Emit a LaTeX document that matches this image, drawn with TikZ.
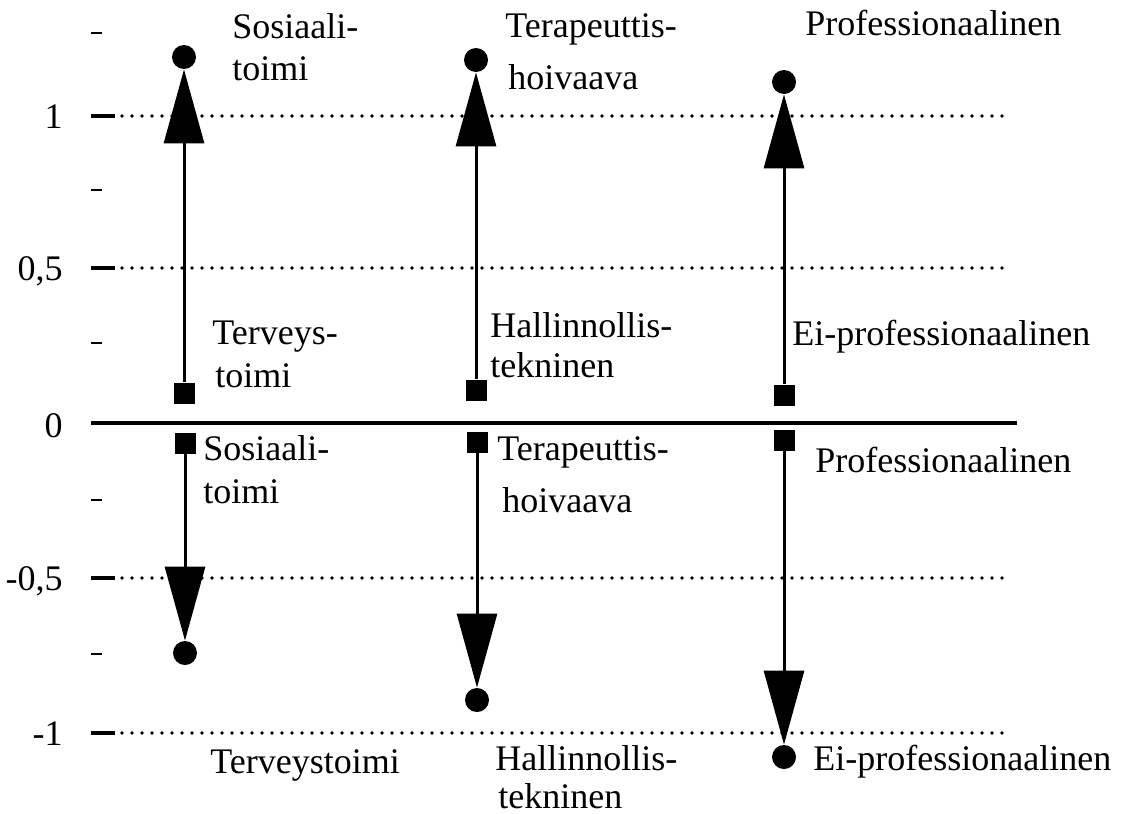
\documentclass[tikz,border=0pt]{standalone}
\usepackage{fontspec}
\setmainfont{Liberation Serif}
\usetikzlibrary{arrows.meta}
\begin{document}
\begin{tikzpicture}[x=0.5pt,y=-0.5pt,
  lbl/.style={anchor=base west, inner sep=0pt, font=\fontsize{18}{21}\selectfont},
  axlbl/.style={anchor=base east, inner sep=0pt, font=\fontsize{18}{21}\selectfont},
  sq/.style={rectangle, fill=black, minimum size=10.5pt, inner sep=0pt},
  dotnode/.style={circle, fill=black, minimum size=12pt, inner sep=0pt},
  conn/.style={line width=1.5pt, -{Triangle[width=20pt,length=37pt]}},
  gridline/.style={line width=1.9pt, line cap=round, dash pattern=on 0pt off 5pt},
  majortick/.style={line width=1.6pt},
  minortick/.style={line width=1.4pt},
  zeroline/.style={line width=1.6pt},
]
\useasboundingbox (0,0) rectangle (1125,814);

% axis labels
\node[axlbl] (y1)  at (63,128) {1};
\node[axlbl] (y05) at (63,280) {0,5};
\node[axlbl] (y0)  at (63,437) {0};
\node[axlbl] (ym05) at (63,590) {-0,5};
\node[axlbl] (ym1) at (63,745) {-1};

% major ticks and dotted grid lines
\foreach \yy in {116,268,578,733} {
  \draw[majortick] (91,\yy) -- (115,\yy);
  \draw[gridline] (122,\yy) -- (1010,\yy);
}
% minor ticks
\foreach \yy in {33,190,343,500,654} {
  \draw[minortick] (91,\yy) -- (102,\yy);
}
% zero line
\draw[zeroline] (91,423) -- (1017,423);

% upper arrows
\node[sq] (s1u) at (184,393) {};
\node[dotnode] (c1u) at (184,57) {};
\node[sq] (s2u) at (476,390) {};
\node[dotnode] (c2u) at (476,60) {};
\node[sq] (s3u) at (784,395) {};
\node[dotnode] (c3u) at (784,82) {};
\draw[conn] (s1u) -- (c1u);
\draw[conn] (s2u) -- (c2u);
\draw[conn] (s3u) -- (c3u);

% lower arrows
\node[sq] (s1d) at (185,443) {};
\node[dotnode] (c1d) at (185,653) {};
\node[sq] (s2d) at (477,442) {};
\node[dotnode] (c2d) at (477,700) {};
\node[sq] (s3d) at (784,440) {};
\node[dotnode] (c3d) at (784,757) {};
\draw[conn] (s1d) -- (c1d);
\draw[conn] (s2d) -- (c2d);
\draw[conn] (s3d) -- (c3d);

% labels, upper half
\node[lbl] (t1a) at (232,38) {Sosiaali-};
\node[lbl] (t1b) at (232,80) {toimi};
\node[lbl] (t2a) at (505,37) {Terapeuttis-};
\node[lbl] (t2b) at (508,89) {hoivaava};
\node[lbl] (t3a) at (805,35) {Professionaalinen};
\node[lbl] (b1a) at (212,344) {Terveys-};
\node[lbl] (b1b) at (215,387) {toimi};
\node[lbl] (b2a) at (490,337) {Hallinnollis-};
\node[lbl] (b2b) at (490,377) {tekninen};
\node[lbl] (b3a) at (792,345) {Ei-professionaalinen};

% labels, lower half
\node[lbl] (d1a) at (203,460) {Sosiaali-};
\node[lbl] (d1b) at (203,503) {toimi};
\node[lbl] (d2a) at (497,460) {Terapeuttis-};
\node[lbl] (d2b) at (502,512) {hoivaava};
\node[lbl] (d3a) at (815,472) {Professionaalinen};
\node[lbl] (e1a) at (210,773) {Terveystoimi};
\node[lbl] (e2a) at (495,770) {Hallinnollis-};
\node[lbl] (e2b) at (498,808) {tekninen};
\node[lbl] (e3a) at (813,770) {Ei-professionaalinen};
\end{tikzpicture}
\end{document}
